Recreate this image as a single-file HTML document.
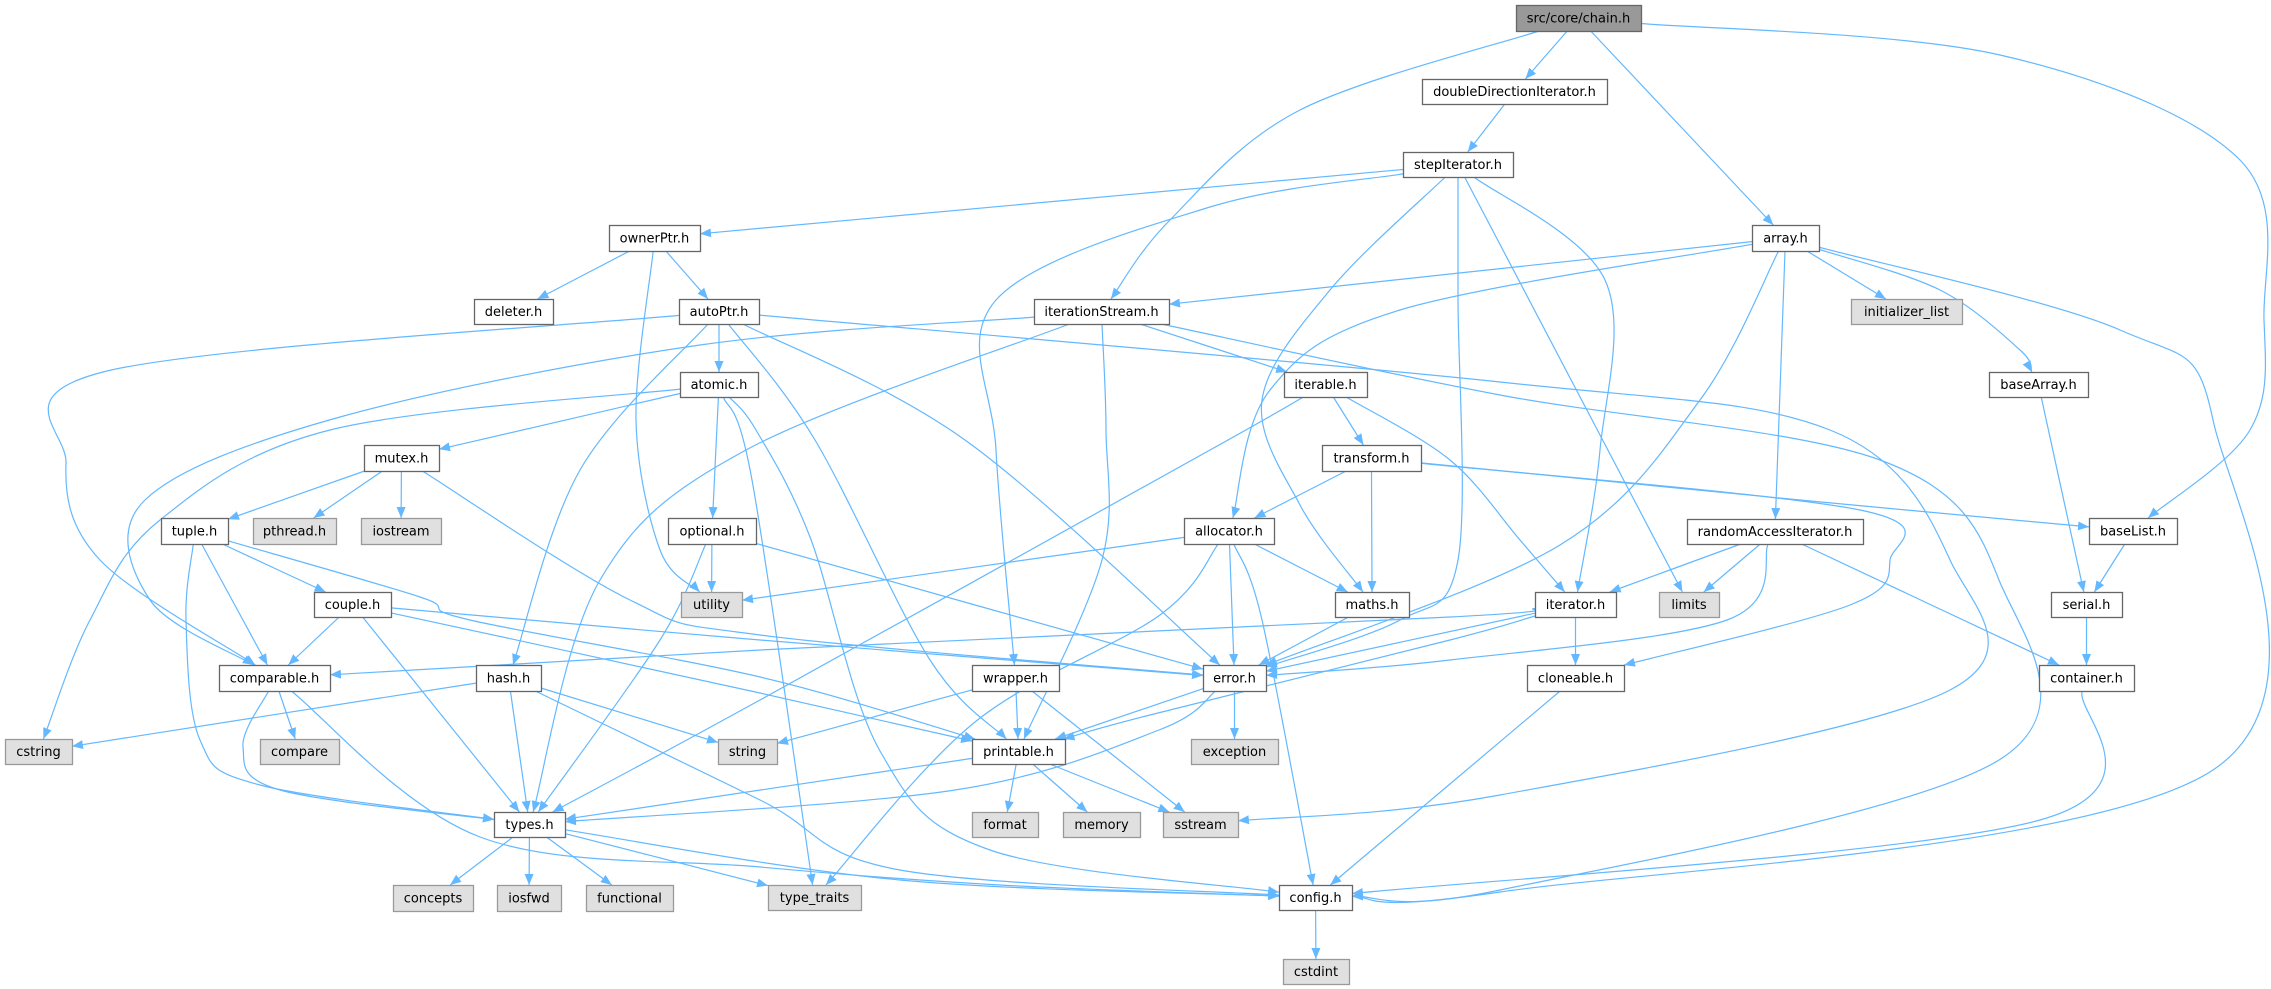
<!DOCTYPE html>
<html><head><meta charset="utf-8"><style>
html,body{margin:0;padding:0;background:#fff;}
svg{display:block;}
text{font-family:"DejaVu Sans","Liberation Sans",sans-serif;font-size:13px;fill:#000;}
</style></head><body>
<svg id="g" width="2271" height="989" viewBox="0 0 2271 989" xmlns="http://www.w3.org/2000/svg">
<defs><marker id="a" markerUnits="userSpaceOnUse" markerWidth="12" markerHeight="10" refX="11" refY="4.5" orient="auto"><path d="M0,0 L11,4.5 L0,9 z" fill="#63b8ff"/></marker></defs>
<g id="E" fill="none" stroke="#63b8ff" stroke-width="1.2"></g>
<g id="N"></g>
</svg>
<script>
var N={
chain:[1516,5,1641,31,'src/core/chain.h',2],
ddi:[1422,79,1607,104,'doubleDirectionIterator.h'],
step:[1403,152,1513,177,'stepIterator.h'],
ownerPtr:[609,225,700,251,'ownerPtr.h'],
array:[1752,225,1819,251,'array.h'],
deleter:[474,299,553,324,'deleter.h'],
autoPtr:[679,299,759,324,'autoPtr.h'],
iterStream:[1034,299,1169,324,'iterationStream.h'],
initl:[1851,299,1962,324,'initializer_list',1],
atomic:[680,372,758,397,'atomic.h'],
iterable:[1284,372,1367,397,'iterable.h'],
baseArray:[1989,372,2088,397,'baseArray.h'],
mutex:[364,445,439,471,'mutex.h'],
transform:[1322,445,1421,471,'transform.h'],
tuple:[161,518,228,544,'tuple.h'],
pthread:[253,518,336,544,'pthread.h',1],
iostream:[361,518,441,544,'iostream',1],
optional:[668,518,756,544,'optional.h'],
allocator:[1184,518,1274,544,'allocator.h'],
rai:[1687,519,1863,544,'randomAccessIterator.h'],
baseList:[2089,518,2177,544,'baseList.h'],
couple:[314,592,391,617,'couple.h'],
utility:[681,592,742,617,'utility',1],
maths:[1335,592,1409,617,'maths.h'],
iterator:[1535,592,1616,617,'iterator.h'],
limits:[1659,592,1719,617,'limits',1],
serial:[2051,592,2122,617,'serial.h'],
comparable:[219,665,330,691,'comparable.h'],
hash:[476,665,541,691,'hash.h'],
wrapper:[972,665,1059,691,'wrapper.h'],
error:[1203,665,1266,691,'error.h'],
cloneable:[1527,665,1624,691,'cloneable.h'],
container:[2039,665,2134,691,'container.h'],
cstring:[5,739,72,764,'cstring',1],
compare:[260,739,339,764,'compare',1],
string:[718,739,777,764,'string',1],
printable:[972,739,1065,764,'printable.h'],
exception:[1191,739,1278,764,'exception',1],
types:[494,812,565,837,'types.h'],
format:[972,812,1038,837,'format',1],
memory:[1063,812,1140,837,'memory',1],
sstream:[1163,812,1238,837,'sstream',1],
concepts:[393,885,473,911,'concepts',1],
iosfwd:[497,885,561,911,'iosfwd',1],
functional:[586,885,673,911,'functional',1],
type_traits:[768,885,861,910,'type_traits',1],
config:[1279,885,1352,910,'config.h'],
cstdint:[1283,959,1349,984,'cstdint',1]
};
var E=[
['chain','ddi'],['chain','array'],['chain','iterStream',[[1300,110],[1170,220]]],
['chain','baseList',[[2000,55],[2240,160],[2264,320],[2250,430]]],
['ddi','step'],
['step','ownerPtr'],['step','wrapper',[[1210,207],[996,300],[996,450]]],
['step','maths',[[1330,290],[1262,400],[1300,505]]],
['step','error',[[1458,300],[1458,560],[1400,620]]],
['step','limits'],['step','iterator',[[1605,280],[1600,450]]],
['ownerPtr','deleter'],['ownerPtr','autoPtr'],['ownerPtr','utility',[[636,420],[660,550]]],
['autoPtr','atomic'],['autoPtr','comparable',[[107,371],[66,463],[100,560]]],
['autoPtr','hash',[[580,470]]],['autoPtr','printable',[[815,440],[930,660]]],
['autoPtr','error',[[965,440]]],
['autoPtr','sstream',[[1500,382],[1830,430],[1950,560],[1950,690],[1500,795]]],
['array','iterStream'],['array','allocator',[[1400,310],[1270,390]]],
['array','error',[[1700,400],[1560,545]]],['array','rai'],['array','initl'],
['array','baseArray',[[1940,290],[2020,350]]],
['array','config',[[2120,330],[2213,420],[2213,770],[1500,892]]],
['iterStream','iterable'],['iterStream','types',[[746,450],[600,580]]],
['iterStream','printable',[[1106,430],[1102,560]]],
['iterStream','comparable',[[700,345],[340,417],[145,500],[150,600]]],
['iterStream','config',[[1500,395],[1880,460],[1999,580],[1999,760],[1500,890]]],
['atomic','mutex'],['atomic','cstring',[[330,430],[160,520],[90,620]]],
['atomic','optional'],['atomic','type_traits',[[752,480]]],
['atomic','config',[[756,430],[810,537],[880,751],[990,850]]],
['iterable','transform'],['iterable','iterator',[[1450,460],[1520,540]]],
['iterable','types',[[1210,450],[760,700]]],
['baseArray','serial'],
['mutex','tuple'],['mutex','pthread'],['mutex','iostream'],['mutex','error',[[630,600],[760,635]]],
['transform','allocator'],['transform','maths'],['transform','baseList',[[1800,500]]],
['transform','cloneable',[[1860,510],[1890,560],[1850,605]]],
['tuple','couple'],['tuple','comparable'],['tuple','types',[[186,620],[200,740],[260,785]]],
['tuple','printable',[[420,597],[470,620],[760,677]]],
['optional','utility'],['optional','types',[[660,640]]],['optional','error'],
['allocator','utility'],['allocator','maths'],['allocator','error'],
['allocator','config',[[1262,620]]],['allocator','type_traits',[[1160,615],[975,722]]],
['rai','iterator'],['rai','limits'],['rai','error',[[1727,620],[1450,660]]],['rai','container'],
['baseList','serial'],
['couple','comparable'],['couple','types'],['couple','error',[[760,640]]],['couple','printable',[[760,693]]],
['maths','error'],
['iterator','comparable',[[1450,617],[760,650]]],['iterator','error'],
['iterator','printable',[[1450,640],[1150,715]]],['iterator','cloneable'],
['serial','container'],
['comparable','compare'],['comparable','types',[[243,747],[280,790]]],
['comparable','config',[[480,837],[760,867],[1000,885]]],
['hash','cstring'],['hash','string'],['hash','types'],['hash','config',[[760,800],[900,870]]],
['wrapper','string'],['wrapper','printable'],['wrapper','sstream'],
['error','exception'],['error','printable'],['error','types',[[1159,730],[955,790]]],
['cloneable','config'],
['container','config',[[2040,820]]],
['printable','format'],['printable','memory'],['printable','sstream'],['printable','types'],
['types','concepts'],['types','iosfwd'],['types','functional'],['types','type_traits'],
['types','config',[[900,880]]],
['config','cstdint']
];
var ns='http://www.w3.org/2000/svg';
function ctr(n){return [(n[0]+n[2])/2,(n[1]+n[3])/2];}
function clip(n,p){var c=ctr(n),hw=(n[2]-n[0])/2,hh=(n[3]-n[1])/2,dx=p[0]-c[0],dy=p[1]-c[1];
var t=Math.min(dx?hw/Math.abs(dx):1e9,dy?hh/Math.abs(dy):1e9);return [c[0]+dx*t,c[1]+dy*t];}
var eg=document.getElementById('E');
E.forEach(function(e){var s=N[e[0]],t=N[e[1]],w=e[2]||[];
var st=clip(s,w.length?w[0]:ctr(t)),en=clip(t,w.length?w[w.length-1]:ctr(s));
var P=[st].concat(w,[en]);var d='M'+st[0].toFixed(1)+','+st[1].toFixed(1);
for(var i=0;i<P.length-1;i++){var p0=P[i-1]||P[i],p1=P[i],p2=P[i+1],p3=P[i+2]||P[i+1];
var c1=[p1[0]+(p2[0]-p0[0])/6,p1[1]+(p2[1]-p0[1])/6],c2=[p2[0]-(p3[0]-p1[0])/6,p2[1]-(p3[1]-p1[1])/6];
d+=' C'+c1[0].toFixed(1)+','+c1[1].toFixed(1)+' '+c2[0].toFixed(1)+','+c2[1].toFixed(1)+' '+p2[0].toFixed(1)+','+p2[1].toFixed(1);}
var pa=document.createElementNS(ns,'path');pa.setAttribute('d',d);pa.setAttribute('marker-end','url(#a)');eg.appendChild(pa);});
var ng=document.getElementById('N');
for(var k in N){var n=N[k];var r=document.createElementNS(ns,'rect');
r.setAttribute('x',n[0]+0.5);r.setAttribute('y',n[1]+0.5);r.setAttribute('width',n[2]-n[0]);r.setAttribute('height',n[3]-n[1]);
r.setAttribute('fill',n[5]==2?'#999999':n[5]==1?'#e0e0e0':'#ffffff');r.setAttribute('stroke',n[5]==1?'#999999':'#666666');r.setAttribute('stroke-width','1.3');
ng.appendChild(r);var tx=document.createElementNS(ns,'text');tx.setAttribute('x',(n[0]+n[2])/2);tx.setAttribute('y',(n[1]+n[3])/2+4.5);
tx.setAttribute('text-anchor','middle');tx.textContent=n[4];ng.appendChild(tx);}
</script>
</body></html>
